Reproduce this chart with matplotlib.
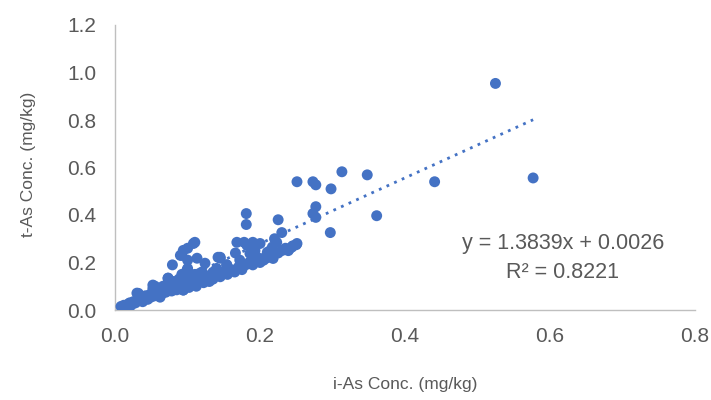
import matplotlib
matplotlib.use("Agg")
import matplotlib.pyplot as plt
import numpy as np

plt.rcParams['font.family'] = ['Liberation Sans', 'DejaVu Sans']

# Data
x_outer = [0.525, 0.577, 0.441, 0.361, 0.348, 0.313, 0.298, 0.297, 0.277, 0.273, 0.251,
           0.277, 0.273, 0.277, 0.181, 0.181, 0.225, 0.230, 0.251, 0.244, 0.239, 0.220,
           0.217, 0.210, 0.196, 0.196, 0.172, 0.166, 0.145, 0.154, 0.190, 0.168, 0.178,
           0.190, 0.200, 0.110, 0.100, 0.090, 0.113, 0.100, 0.079, 0.100, 0.117, 0.113,
           0.142, 0.140, 0.131, 0.154, 0.223, 0.241, 0.193, 0.214, 0.218, 0.204, 0.108,
           0.182, 0.094, 0.145, 0.124, 0.186, 0.159, 0.135, 0.117, 0.103, 0.092, 0.099,
           0.073, 0.030, 0.052, 0.094, 0.062]
y_outer = [0.954, 0.556, 0.540, 0.397, 0.569, 0.582, 0.510, 0.326, 0.527, 0.540, 0.540,
           0.435, 0.406, 0.390, 0.406, 0.360, 0.380, 0.326, 0.280, 0.265, 0.250, 0.300,
           0.265, 0.243, 0.222, 0.210, 0.210, 0.240, 0.222, 0.190, 0.197, 0.285, 0.285,
           0.285, 0.280, 0.285, 0.260, 0.230, 0.218, 0.210, 0.190, 0.175, 0.146, 0.117,
           0.222, 0.175, 0.146, 0.190, 0.285, 0.259, 0.250, 0.250, 0.217, 0.217, 0.280,
           0.272, 0.251, 0.218, 0.197, 0.238, 0.167, 0.159, 0.155, 0.134, 0.230, 0.167,
           0.134, 0.071, 0.105, 0.084, 0.054]

x_band = [0.008, 0.012, 0.015, 0.018, 0.020, 0.022, 0.025, 0.028, 0.030, 0.032, 0.035,
          0.038, 0.040, 0.042, 0.045, 0.048, 0.050, 0.052, 0.055, 0.055, 0.058, 0.060,
          0.062, 0.065, 0.066, 0.068, 0.070, 0.072, 0.073, 0.075, 0.077, 0.078, 0.080,
          0.082, 0.085, 0.085, 0.088, 0.090, 0.092, 0.094, 0.095, 0.098, 0.100, 0.102,
          0.105, 0.108, 0.110, 0.112, 0.115, 0.118, 0.120, 0.122, 0.125, 0.128, 0.130]
y_band = [0.015, 0.020, 0.012, 0.025, 0.030, 0.020, 0.035, 0.030, 0.040, 0.070, 0.045,
          0.035, 0.050, 0.060, 0.045, 0.065, 0.055, 0.090, 0.060, 0.100, 0.075, 0.065,
          0.085, 0.070, 0.100, 0.085, 0.075, 0.110, 0.134, 0.090, 0.100, 0.080, 0.120,
          0.095, 0.110, 0.085, 0.130, 0.100, 0.150, 0.084, 0.120, 0.105, 0.140, 0.095,
          0.125, 0.110, 0.150, 0.100, 0.130, 0.120, 0.160, 0.115, 0.140, 0.130, 0.120]

x_mid = [0.135, 0.140, 0.145, 0.150, 0.155, 0.160, 0.165, 0.170, 0.175, 0.180, 0.185,
         0.190, 0.200, 0.205, 0.210, 0.215, 0.225, 0.230, 0.235, 0.245, 0.250]
y_mid = [0.130, 0.150, 0.140, 0.160, 0.150, 0.170, 0.160, 0.180, 0.170, 0.190, 0.200,
         0.190, 0.200, 0.210, 0.220, 0.230, 0.240, 0.250, 0.260, 0.270, 0.275]

slope, intercept = 1.3839, 0.0026
eq_text = "y = 1.3839x + 0.0026\nR² = 0.8221"

xs = np.array(x_outer + x_band + x_mid)
ys = np.array(y_outer + y_band + y_mid)

fig = plt.figure(figsize=(7.11, 4.0), dpi=100)
ax = fig.add_axes([0.162, 0.225, 0.815, 0.7125])

blue = '#4472C4'
ax.scatter(xs, ys, s=62, color=blue, edgecolors='none', zorder=3)

xl = np.array([xs.min(), xs.max()])
ax.plot(xl, slope * xl + intercept, color=blue, linestyle=(0, (1, 2)), linewidth=2, zorder=2)

ax.set_xlim(0, 0.8)
ax.set_ylim(0, 1.2)
ax.set_xticks(np.arange(0, 0.81, 0.2))
ax.set_yticks(np.arange(0, 1.21, 0.2))
ax.set_xticklabels([f"{v:.1f}" for v in np.arange(0, 0.81, 0.2)])
ax.set_yticklabels([f"{v:.1f}" for v in np.arange(0, 1.21, 0.2)])

grey = '#595959'
ax.tick_params(axis='both', length=0, labelsize=15, labelcolor=grey)
ax.tick_params(axis='x', pad=12.5)
ax.tick_params(axis='y', pad=13.5)
for s in ['top', 'right']:
    ax.spines[s].set_visible(False)
for s in ['left', 'bottom']:
    ax.spines[s].set_color('#BFBFBF')
    ax.spines[s].set_linewidth(1.0)

ax.set_xlabel("i-As Conc. (mg/kg)", fontsize=12.5, color=grey)
ax.set_ylabel("t-As Conc. (mg/kg)", fontsize=12.5, color=grey)
ax.xaxis.set_label_coords(0.5, -0.262)
ax.xaxis.label.set_va('center')
ax.yaxis.set_label_coords(-0.15, 0.51)
ax.yaxis.label.set_va('center')

ax.text(0.618, 0.22, eq_text, fontsize=15.5, color=grey, ha='center', va='center',
        linespacing=1.5, multialignment='center', transform=ax.transData)

fig.savefig("out.png", dpi=100)
